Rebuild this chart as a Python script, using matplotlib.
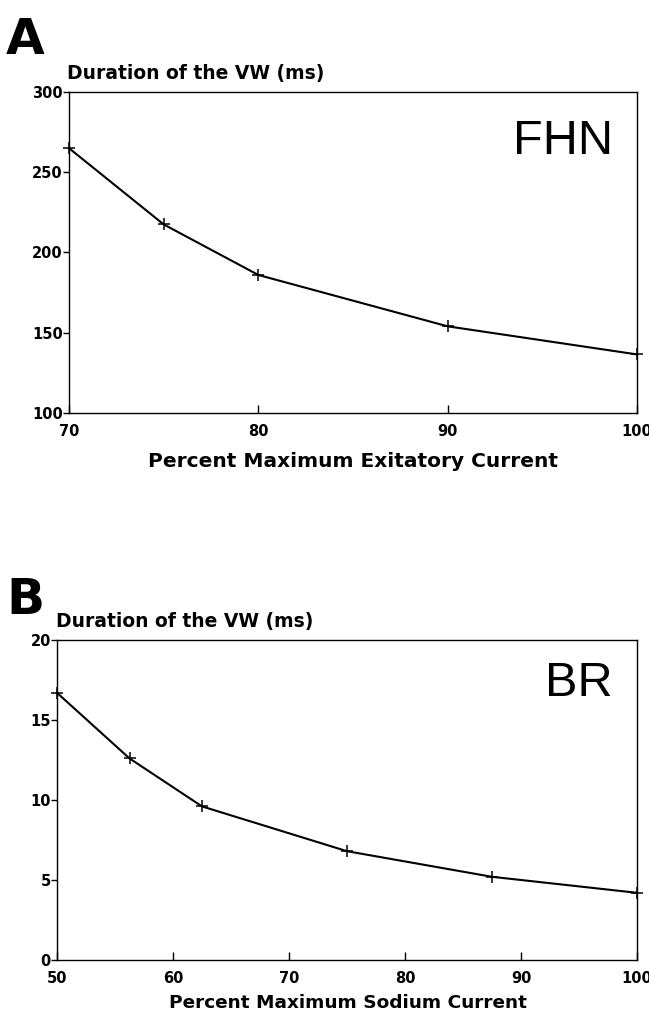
import numpy as np
import matplotlib
matplotlib.use('Agg')
import matplotlib.pyplot as plt

plt.rcParams['font.family'] = ['DejaVu Sans']

# panel A: FHN model
fhn_x = [70, 75, 80, 90, 100]
fhn_y = [265, 217.5, 186, 154, 136.5]
fhn_xticks = [70, 80, 90, 100]
fhn_yticks = [100, 150, 200, 250, 300]

# panel B: BR model
br_x = [50, 56.25, 62.5, 75, 87.5, 100]
br_y = [16.7, 12.6, 9.6, 6.8, 5.2, 4.2]
br_xticks = [50, 60, 70, 80, 90, 100]
br_yticks = [0, 5, 10, 15, 20]

W, H = 649, 1019
fig = plt.figure(figsize=(W / 100, H / 100), dpi=100)


def box(l, t, r, b):
    return [l / W, 1 - b / H, (r - l) / W, (b - t) / H]


def fpos(x, y):
    return x / W, 1 - y / H


def style(ax, xt, yt, xl, yl):
    ax.set_xlim(*xl)
    ax.set_ylim(*yl)
    ax.set_xticks(xt)
    ax.set_yticks(yt)
    for s in ax.spines.values():
        s.set_linewidth(1.0)
    ax.tick_params(axis='x', direction='in', length=6, width=1.0, pad=8,
                   labelsize=10.5)
    ax.tick_params(axis='y', direction='out', length=4, width=1.0, pad=0.5,
                   labelsize=10.5)
    for lab in ax.get_xticklabels() + ax.get_yticklabels():
        lab.set_fontweight('bold')


axA = fig.add_axes(box(69, 92, 637, 413))
axA.plot(fhn_x, fhn_y, color='black', lw=1.5, marker='+', ms=9, mew=1.1,
         clip_on=False)
style(axA, fhn_xticks, fhn_yticks, (70, 100), (100, 300))

axB = fig.add_axes(box(57, 640, 637, 960))
axB.plot(br_x, br_y, color='black', lw=1.5, marker='+', ms=9, mew=1.1,
         clip_on=False)
style(axB, br_xticks, br_yticks, (50, 100), (0, 20))

# panel letters
fig.text(*fpos(6, 40), 'A', fontsize=36, fontweight='bold', va='center', ha='left')
fig.text(*fpos(6, 600), 'B', fontsize=36, fontweight='bold', va='center', ha='left')

# y axis titles
fig.text(*fpos(67, 73), 'Duration of the VW (ms)', fontsize=13.5,
         fontweight='bold', va='center', ha='left')
fig.text(*fpos(56, 622), 'Duration of the VW (ms)', fontsize=13.5,
         fontweight='bold', va='center', ha='left')

# x axis labels
fig.text(*fpos(353, 462), 'Percent Maximum Exitatory Current', fontsize=14.5,
         fontweight='bold', va='center', ha='center')
fig.text(*fpos(348, 1003), 'Percent Maximum Sodium Current', fontsize=13.3,
         fontweight='bold', va='center', ha='center')

# model names
fig.text(*fpos(613, 141), 'FHN', fontfamily='Liberation Sans', fontsize=35,
         va='center', ha='right')
fig.text(*fpos(613, 684), 'BR', fontfamily='Liberation Sans', fontsize=35,
         va='center', ha='right')

fig.savefig('out.png', dpi=100)
